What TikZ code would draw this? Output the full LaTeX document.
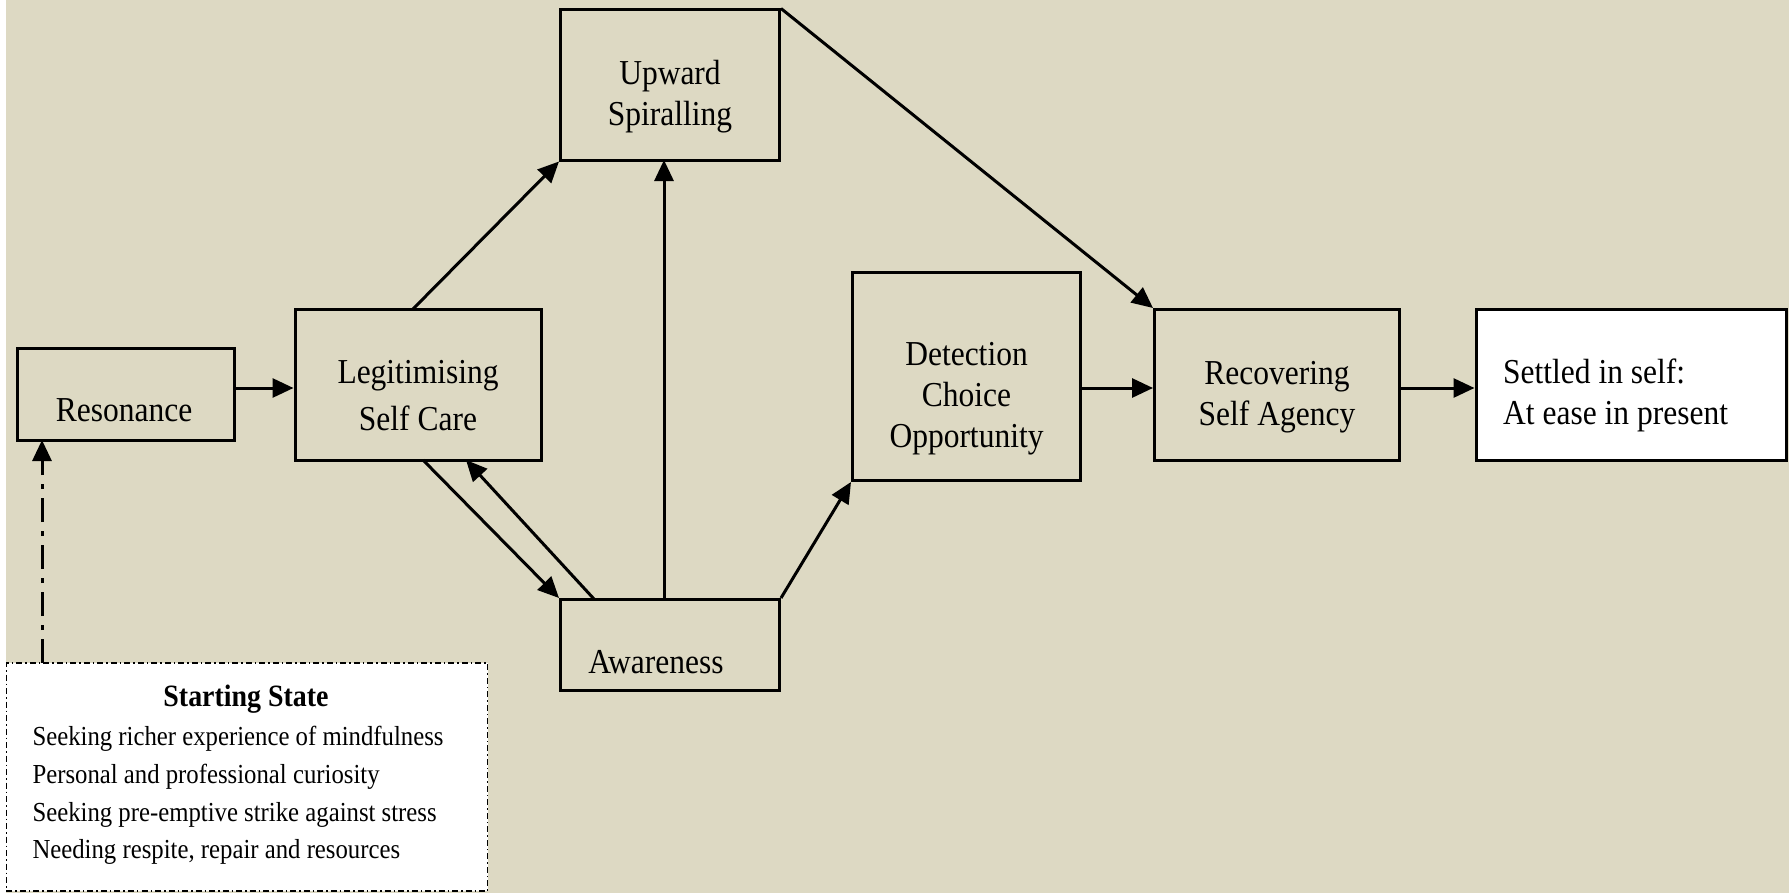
\documentclass[tikz,border=0pt]{standalone}
\usepackage{fontspec}
\setmainfont{Liberation Serif}[FakeStretch=0.9]
\usetikzlibrary{arrows.meta}
\definecolor{bgtan}{RGB}{221,217,195}
\tikzset{
  box/.style={draw, line width=3bp, fill=bgtan, inner sep=0pt},
  lbl/.style={align=center, inner sep=0pt, font=\fontsize{35bp}{41bp}\selectfont},
  conn/.style={line width=3bp, -{Triangle[length=21bp,width=19bp]}},
}
\begin{document}
\begin{tikzpicture}[x=1bp,y=-1bp]
\useasboundingbox (0,0) rectangle (1789,893);
\fill[white] (0,0) rectangle (1789,893);
\fill[bgtan] (6,0) rectangle (1789,893);
% boxes
\node[box, minimum width=216bp, minimum height=92bp] (res) at (126,394) {};
\node[lbl] (restxt) at (124,410) {Resonance};
\node[box, minimum width=246bp, minimum height=151bp] (leg) at (418,385) {};
\node[lbl, font=\fontsize{35bp}{47bp}\selectfont] (legtxt) at ([yshift=-11bp]leg.center) {Legitimising\\Self Care};
\node[box, minimum width=219bp, minimum height=150bp] (upw) at (670,85) {};
\node[lbl] (upwtxt) at ([yshift=-12bp]upw.center) {Upward\\Spiralling};
\node[box, minimum width=228bp, minimum height=208bp] (det) at (966.5,376.5) {};
\node[lbl] (dettxt) at ([yshift=-22bp]det.center) {Detection\\Choice\\Opportunity};
\node[box, minimum width=219bp, minimum height=91bp] (aw) at (670,645) {};
\node[lbl] (awtxt) at (656,662) {Awareness};
\node[box, minimum width=245bp, minimum height=151bp] (rec) at (1277,385) {};
\node[lbl] (rectxt) at ([yshift=-12bp]rec.center) {Recovering\\Self Agency};
\node[box, fill=white, minimum width=310bp, minimum height=151bp] (set) at (1631,385) {};
\node[lbl, align=left, anchor=west] (settxt) at (1503,395) {Settled in self:\\At ease in present};
\node[draw, fill=white, line width=1.3bp, dash pattern=on 6bp off 3bp on 1.5bp off 3bp,
  minimum width=481bp, minimum height=228bp] (start) at (247,777) {};
\node[font=\bfseries\fontsize{31bp}{36bp}\selectfont] (sttitle) at (246,699) {Starting State};
\node[font=\fontsize{27.5bp}{37.6bp}\selectfont, align=left, anchor=north west] (stlist) at (29,723)
  {Seeking richer experience of mindfulness\\Personal and professional curiosity\\Seeking pre-emptive strike against stress\\Needing respite, repair and resources};
% connectors
\coordinate (resout) at (res.east |- 0,388);
\coordinate (legin) at (leg.west |- 0,388);
\draw[conn] (resout) -- (legin);
\coordinate (legtop) at (413,309);
\draw[conn] (legtop) -- (upw.south west);
\coordinate (awtop) at (664,599);
\coordinate (upwbot) at (664,160);
\draw[conn] (awtop) -- (upwbot);
\coordinate (legbot1) at (423,460);
\draw[conn] (legbot1) -- (aw.north west);
\coordinate (awtop2) at (594,599);
\coordinate (legbot2) at (466,460);
\draw[conn] (awtop2) -- (legbot2);
\draw[conn] (aw.north east) -- (det.south west);
\coordinate (detout) at (det.east |- 0,388);
\coordinate (recin) at (rec.west |- 0,388);
\draw[conn] (detout) -- (recin);
\draw[conn] (upw.north east) -- (rec.north west);
\coordinate (recout) at (rec.east |- 0,388);
\coordinate (setin) at (set.west |- 0,388);
\draw[conn] (recout) -- (setin);
\coordinate (sttop) at (42,663);
\coordinate (resbot) at (42,440);
\draw[conn, dash pattern=on 24bp off 9bp on 5bp off 9bp] (sttop) -- (resbot);
\end{tikzpicture}
\end{document}
